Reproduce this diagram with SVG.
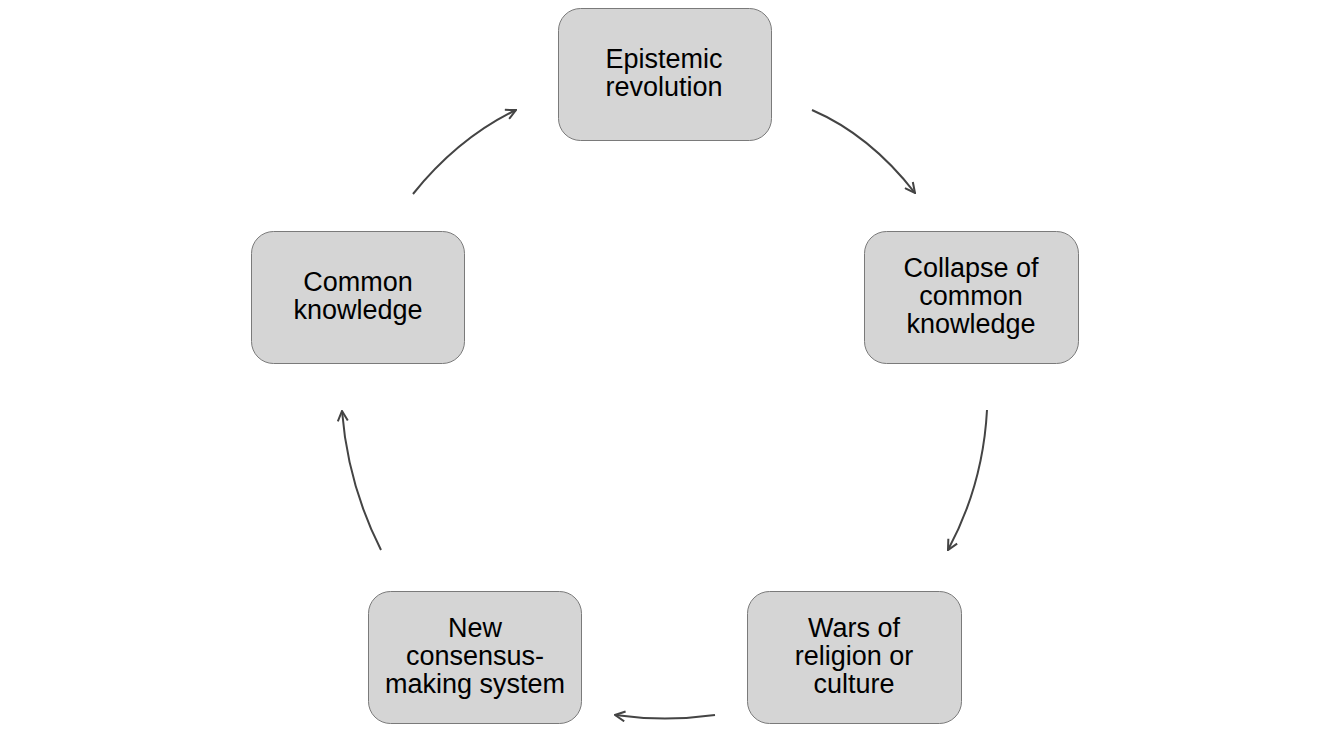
<svg xmlns="http://www.w3.org/2000/svg" width="1329" height="756" viewBox="0 0 1329 756">
<style>
.box{fill:#d5d5d5;stroke:#7a7a7a;stroke-width:1}
.lbl{font-family:"Liberation Sans",Arial,sans-serif;font-size:27px;fill:#000;text-anchor:middle}
.arr{fill:none;stroke:#444;stroke-width:2;marker-end:url(#ah)}
</style>
<defs>
<marker id="ah" viewBox="0 0 12 12" refX="11" refY="6" markerWidth="12" markerHeight="12" markerUnits="userSpaceOnUse" orient="auto">
<path d="M1,1 L11,6 L1,11" fill="none" stroke="#444" stroke-width="2"/>
</marker>
</defs>
<rect width="1329" height="756" fill="#fff"/>
<g id="connectors">
<path class="arr" d="M812,110 Q870,135 915,193"/>
<path class="arr" d="M987,410 Q983,485 948,550"/>
<path class="arr" d="M715,715 Q665,722 615,715"/>
<path class="arr" d="M381,550 Q348,485 342,411"/>
<path class="arr" d="M413,194 Q458,138 516,110"/>
</g>
<g id="epistemic">
<rect class="box" x="558.5" y="8.5" width="213" height="132" rx="22"/>
<text class="lbl" x="664"><tspan x="664" y="68">Epistemic</tspan><tspan x="664" y="96">revolution</tspan></text>
</g>
<g id="collapse">
<rect class="box" x="864.5" y="231.5" width="214" height="132" rx="22"/>
<text class="lbl"><tspan x="971" y="277">Collapse of</tspan><tspan x="971" y="305">common</tspan><tspan x="971" y="333">knowledge</tspan></text>
</g>
<g id="wars">
<rect class="box" x="747.5" y="591.5" width="214" height="132" rx="22"/>
<text class="lbl"><tspan x="854" y="637">Wars of</tspan><tspan x="854" y="665">religion or</tspan><tspan x="854" y="693">culture</tspan></text>
</g>
<g id="consensus">
<rect class="box" x="368.5" y="591.5" width="213" height="132" rx="22"/>
<text class="lbl"><tspan x="475" y="637">New</tspan><tspan x="475" y="665">consensus-</tspan><tspan x="475" y="693">making system</tspan></text>
</g>
<g id="common">
<rect class="box" x="251.5" y="231.5" width="213" height="132" rx="22"/>
<text class="lbl"><tspan x="358" y="291">Common</tspan><tspan x="358" y="319">knowledge</tspan></text>
</g>
</svg>
